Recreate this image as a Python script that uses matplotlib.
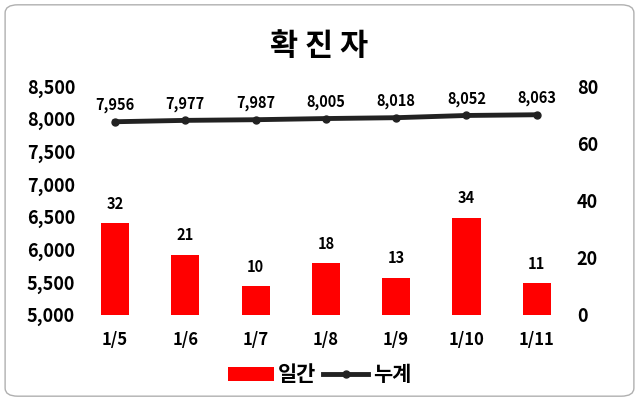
import matplotlib
matplotlib.use("Agg")
import matplotlib.pyplot as plt
from matplotlib.patches import FancyBboxPatch

plt.rcParams['font.family'] = ['Noto Sans CJK KR', 'DejaVu Sans']
plt.rcParams['font.weight'] = 'bold'

dates = ['1/5', '1/6', '1/7', '1/8', '1/9', '1/10', '1/11']
daily = [32, 21, 10, 18, 13, 34, 11]
cumul = [7956, 7977, 7987, 8005, 8018, 8052, 8063]

fig = plt.figure(figsize=(6.39, 4.01), dpi=100)
fig.patches.append(FancyBboxPatch((0.008, 0.012), 0.984, 0.976, boxstyle="round,pad=0,rounding_size=0.02",
                                  transform=fig.transFigure, fill=False, edgecolor='#b0b0b0', lw=1))
ax = fig.add_axes([0.125, 0.215, 0.77, 0.57])
ax2 = ax.twinx()
x = range(len(dates))
ax2.bar(x, daily, width=0.4, color='#ff0000', label='일간')
ax.plot(x, cumul, color='#222222', lw=3.5, marker='o', ms=5, label='누계')
ax.set_zorder(ax2.get_zorder() + 1); ax.patch.set_visible(False)
ax.set_ylim(5000, 8500); ax2.set_ylim(0, 80)
ax.set_yticks(range(5000, 8501, 500))
ax.set_yticklabels([f'{v:,}' for v in range(5000, 8501, 500)], fontsize=13)
ax2.set_yticks(range(0, 81, 20)); ax2.set_yticklabels([str(v) for v in range(0, 81, 20)], fontsize=13)
ax.set_xticks(list(x)); ax.set_xticklabels(dates, fontsize=12)
ax.set_xlim(-0.5, 6.5)
for a in (ax, ax2):
    for s in a.spines.values(): s.set_visible(False)
    a.tick_params(length=0)
ax.tick_params(axis='x', pad=12)
for i, v in enumerate(daily):
    ax2.text(i, v + 4, str(v), ha='center', va='bottom', fontsize=10.5, fontweight='bold')
for i, v in enumerate(cumul):
    ax.text(i, v + 130, f'{v:,}', ha='center', va='bottom', fontsize=10.5, fontweight='bold')
fig.text(0.5, 0.885, '확 진 자', ha='center', va='center', fontsize=22, fontweight='bold')
h1, l1 = ax2.get_legend_handles_labels(); h2, l2 = ax.get_legend_handles_labels()
fig.legend(h1 + h2, l1 + l2, loc='center', bbox_to_anchor=(0.5, 0.065), ncol=2, frameon=False,
           fontsize=15, handlelength=2.2, columnspacing=0.3, handletextpad=0.2)
fig.savefig('out.png', dpi=100)
